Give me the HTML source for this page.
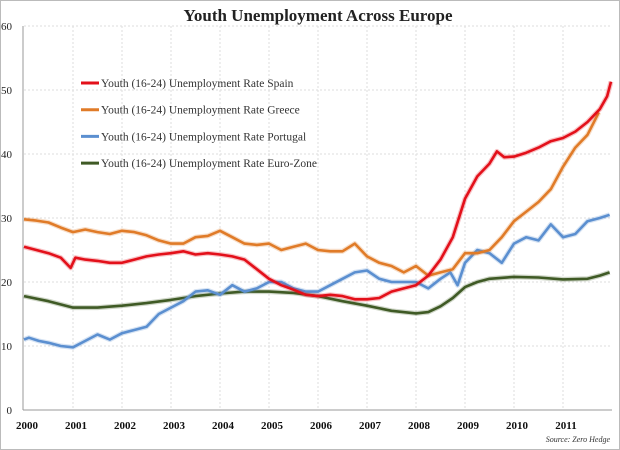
<!DOCTYPE html>
<html><head><meta charset="utf-8"><style>
body{margin:0;background:#fff}
svg{display:block;font-family:"Liberation Serif",serif}
</style></head><body>
<svg id="c" width="620" height="450">
<rect x="0.5" y="0.5" width="619" height="449" fill="#fff" stroke="#bbb"/>
<text x="318" y="21" text-anchor="middle" font-size="17" font-weight="bold" fill="#222">Youth Unemployment Across Europe</text>
<g id="grid"></g><g id="axes"></g><g id="series"></g>
<g id="legend"></g>
<text x="610" y="442" text-anchor="end" font-size="8" font-style="italic" fill="#333">Source: Zero Hedge</text>
</svg>
<script>
const yTicks=[0,10,20,30,40,50,60];
const xTickYears=[2000,2001,2002,2003,2004,2005,2006,2007,2008,2009,2010,2011];
const spainT=[2000,2000.25,2000.5,2000.75,2000.95,2001.05,2001.25,2001.5,2001.75,2002,2002.25,2002.5,2002.75,2003,2003.25,2003.5,2003.75,2004,2004.25,2004.5,2004.75,2005,2005.25,2005.5,2005.75,2006,2006.25,2006.5,2006.75,2007,2007.25,2007.5,2007.75,2008,2008.25,2008.5,2008.75,2009,2009.25,2009.5,2009.65,2009.8,2010,2010.25,2010.5,2010.75,2011,2011.25,2011.5,2011.75,2011.9,2011.98];
const spainV=[25.5,25,24.5,23.8,22.2,23.8,23.5,23.3,23,23,23.5,24,24.3,24.5,24.8,24.3,24.5,24.3,24,23.5,22,20.5,19.5,18.8,18,17.8,18,17.8,17.3,17.3,17.5,18.5,19,19.5,21,23.5,27,33,36.5,38.5,40.4,39.5,39.6,40.2,41,42,42.5,43.5,45,47,49,51.3];
const greeceT=[2000,2000.25,2000.5,2000.75,2001,2001.25,2001.5,2001.75,2002,2002.25,2002.5,2002.75,2003,2003.25,2003.5,2003.75,2004,2004.25,2004.5,2004.75,2005,2005.25,2005.5,2005.75,2006,2006.25,2006.5,2006.75,2007,2007.25,2007.5,2007.75,2008,2008.25,2008.5,2008.75,2009,2009.25,2009.5,2009.75,2010,2010.25,2010.5,2010.75,2011,2011.25,2011.5,2011.73];
const greeceV=[29.8,29.6,29.3,28.5,27.8,28.2,27.8,27.5,28,27.8,27.3,26.5,26,26,27,27.2,28,27,26,25.8,26,25,25.5,26,25,24.8,24.8,26,24,23,22.5,21.5,22.5,21,21.5,22,24.5,24.5,25,27,29.5,31,32.5,34.5,38,41,43,46.5];
const portugalT=[2000,2000.1,2000.3,2000.5,2000.75,2001,2001.25,2001.5,2001.75,2002,2002.25,2002.5,2002.75,2003,2003.25,2003.5,2003.75,2004,2004.25,2004.5,2004.75,2005,2005.25,2005.5,2005.75,2006,2006.25,2006.5,2006.75,2007,2007.25,2007.5,2007.75,2008,2008.25,2008.5,2008.7,2008.85,2009,2009.25,2009.5,2009.75,2010,2010.25,2010.5,2010.75,2011,2011.25,2011.5,2011.75,2011.95];
const portugalV=[11,11.3,10.8,10.5,10,9.8,10.8,11.8,11,12,12.5,13,15,16,17,18.5,18.7,18,19.5,18.5,19,20,20,19,18.5,18.5,19.5,20.5,21.5,21.8,20.5,20,20,20,19,20.5,21.5,19.5,23,25,24.5,23,26,27,26.5,29,27,27.5,29.5,30,30.5];
const euroT=[2000,2000.5,2001,2001.5,2002,2002.5,2003,2003.5,2004,2004.5,2005,2005.5,2006,2006.5,2007,2007.5,2008,2008.25,2008.5,2008.75,2009,2009.25,2009.5,2010,2010.5,2011,2011.5,2011.75,2011.95];
const euroV=[17.8,17,16,16,16.3,16.7,17.2,17.8,18.2,18.5,18.5,18.3,17.8,17,16.3,15.5,15.1,15.3,16.2,17.5,19.2,20,20.5,20.8,20.7,20.4,20.5,21,21.5];
const seriesNames=["Youth (16-24) Unemployment Rate Spain","Youth (16-24) Unemployment Rate Greece","Youth (16-24) Unemployment Rate Portugal","Youth (16-24) Unemployment Rate Euro-Zone"];

const NS="http://www.w3.org/2000/svg";
const X=t=>24+49*(t-2000);
const Y=v=>410-6.4*v;
function mk(tag,at,parent){const e=document.createElementNS(NS,tag);for(const k in at)e.setAttribute(k,at[k]);parent.appendChild(e);return e;}
const grid=document.getElementById('grid'),axes=document.getElementById('axes'),ser=document.getElementById('series'),leg=document.getElementById('legend');
yTicks.forEach(v=>{
  if(v>0){const l=mk('line',{x1:X(2000),x2:612,y1:Y(v),y2:Y(v),stroke:'#ddd','stroke-dasharray':'2,2'},grid);
  
  }
  const t=mk('text',{x:12,y:Y(v)+4,'text-anchor':'end','font-size':11,fill:'#222'},axes);t.textContent=v;
  
  
});
xTickYears.forEach(y=>{
  if(y>2000){const l=mk('line',{x1:X(y),x2:X(y),y1:Y(60),y2:Y(0),stroke:'#ddd','stroke-dasharray':'2,2'},grid);
  
  }
  const t=mk('text',{x:X(y)+3,y:429,'text-anchor':'middle','font-size':11,'font-weight':'bold',fill:'#111'},axes);t.textContent=y;
  
  
});
const la=mk('line',{x1:X(2000)-1,x2:X(2000)-1,y1:Y(60),y2:Y(0),stroke:'#999'},axes);


const lb=mk('line',{x1:X(2000)-1,x2:612,y1:Y(0),y2:Y(0),stroke:'#999'},axes);



const all=[[spainT,spainV,'#e3101a','spain'],[greeceT,greeceV,'#e07b28','greece'],[portugalT,portugalV,'#5b8fd0','portugal'],[euroT,euroV,'#3f5a25','euro-zone']];
[all[3],all[2],all[1],all[0]].forEach(([T,V,c,n])=>{
  const d=T.map((t,i)=>(i?'L':'M')+X(t).toFixed(1)+','+Y(V[i]).toFixed(1)).join('');
  const g=mk('path',{d:d,fill:'none',stroke:c,'stroke-width':5,opacity:0.25,'stroke-linejoin':'round'},ser);
  
  
  const p=mk('path',{d:d,fill:'none',stroke:c,'stroke-width':2.6,'stroke-linejoin':'round'},ser);
  
  
});
all.forEach(([T,V,c,n],i)=>{
  const y=83+i*26.7;
  const l=mk('line',{x1:81,x2:99,y1:y,y2:y,stroke:c,'stroke-width':3},leg);
  
  
  const t=mk('text',{x:101,y:y+4,'font-size':11.5,fill:'#333'},leg);t.textContent=seriesNames[i];
  
  
});
</script>
</body></html>
